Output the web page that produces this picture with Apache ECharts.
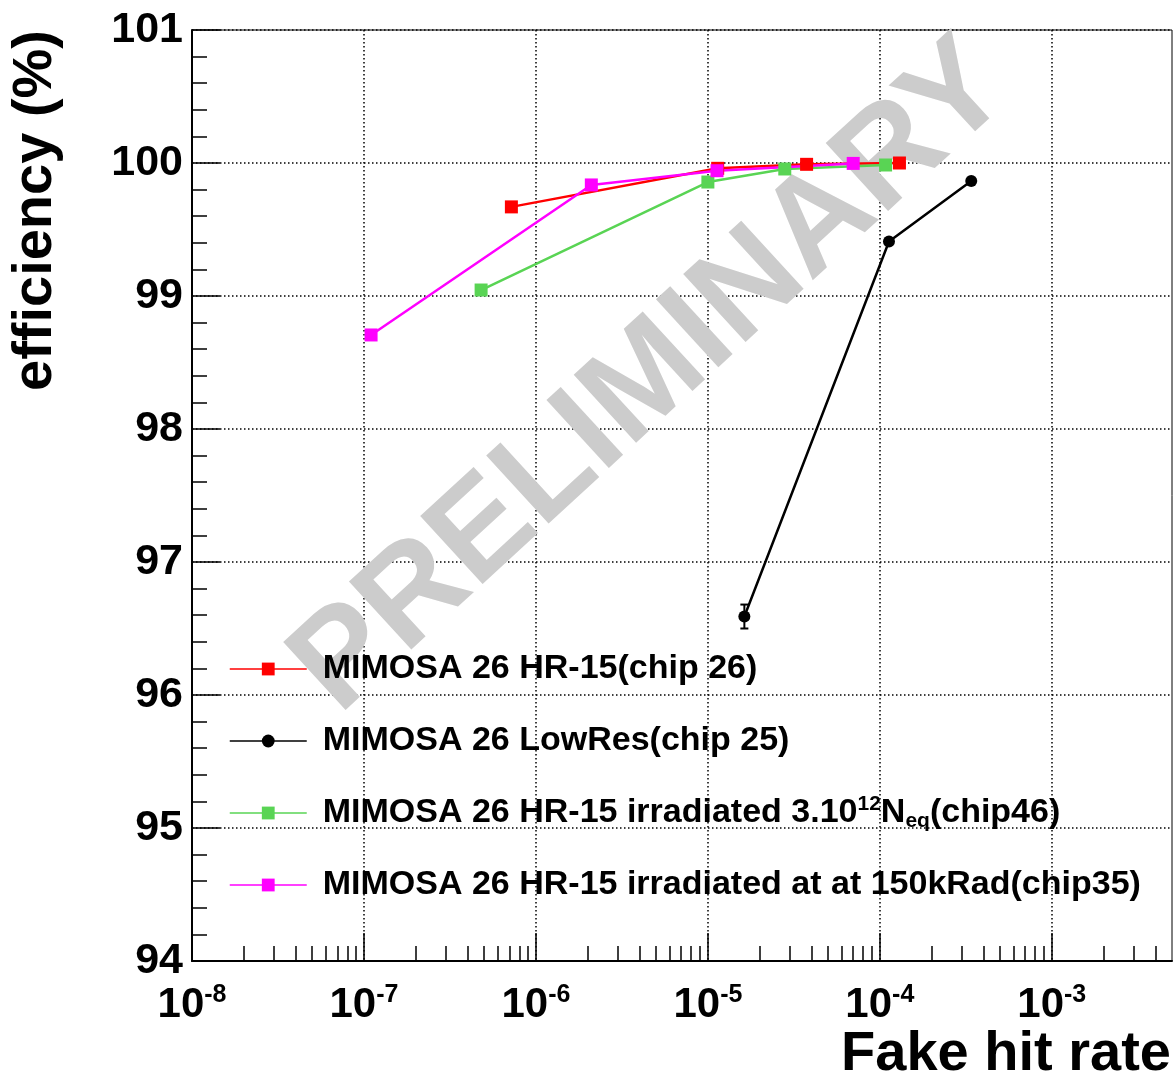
<!DOCTYPE html>
<html>
<head>
<meta charset="utf-8">
<script src="https://cdn.jsdelivr.net/npm/echarts@6/dist/echarts.min.js"></script>
<style>
  html, body { margin: 0; padding: 0; background: #fff; }
  #chart { width: 1174px; height: 1080px; }
</style>
</head>
<body>
<div id="chart"></div>
<script>
// Detection efficiency versus fake hit rate for MIMOSA 26 sensors.
const seriesNames = [
  'MIMOSA 26 HR-15(chip 26)',
  'MIMOSA 26 LowRes(chip 25)',
  'MIMOSA 26 HR-15 irradiated 3.10^12 N_eq(chip46)',
  'MIMOSA 26 HR-15 irradiated at at 150kRad(chip35)'
];

const hr15Rate = [7.2e-7, 1.14e-5, 3.75e-5, 1.3e-4];
const hr15Eff  = [99.67, 99.96, 99.99, 100.0];

const lowResRate = [1.63e-5, 1.13e-4, 3.4e-4];
const lowResEff  = [96.59, 99.41, 99.865];
const lowResErr  = [0.09, 0.02, 0.015];

const irrNeqRate = [4.8e-7, 1.0e-5, 2.8e-5, 1.08e-4];
const irrNeqEff  = [99.045, 99.857, 99.955, 99.985];

const irrRadRate = [1.1e-7, 2.1e-6, 1.13e-5, 7.0e-5];
const irrRadEff  = [98.707, 99.835, 99.942, 99.997];

const rateMin = 1e-8;
const rateMax = 5e-3;
const decadeTicks = [1e-8, 1e-7, 1e-6, 1e-5, 1e-4, 1e-3];
const seriesColors = ['#ff0000', '#000000', '#59d454', '#ff00ff'];

const FONT = '"Liberation Sans", Arial, Helvetica, sans-serif';

// 2..9 sub-divisions of every decade, up to the end of the axis
const minorRates = [];
decadeTicks.forEach(d => {
  for (let k = 2; k <= 9; k++) {
    const v = d * k;
    if (v < rateMax) minorRates.push(v);
  }
});

// Rich-text versions of the legend labels (super/subscripts)
const legendMarkup = {
  [seriesNames[2]]: 'MIMOSA 26 HR-15 irradiated 3.10{sup|12}N{sub|eq}(chip46)'
};

const pairs = (xs, ys) => xs.map((x, i) => [x, ys[i]]);

const gridDots = { color: '#000', width: 1.5, type: [1.5, 2.5] };

const chart = echarts.init(document.getElementById('chart'), null, { renderer: 'canvas' });

chart.setOption({
  animation: false,
  backgroundColor: '#fff',
  textStyle: { fontFamily: FONT },
  grid: {
    left: 192, right: 2, top: 30, bottom: 119,
    show: true, borderColor: '#000', borderWidth: 1, backgroundColor: 'transparent'
  },
  xAxis: [{
    type: 'log',
    logBase: 10,
    min: rateMin,
    max: rateMax,
    axisLine: { show: true, onZero: false, lineStyle: { color: '#000', width: 2 } },
    axisTick: {
      show: true, inside: true, length: 28, customValues: decadeTicks,
      lineStyle: { color: '#000', width: 1.5 }
    },
    axisLabel: {
      customValues: decadeTicks,
      margin: 22,
      formatter: v => '{b|10}{e|' + Math.round(Math.log10(v)) + '}',
      rich: {
        b: { fontSize: 42, fontWeight: 'bold', fontFamily: FONT, color: '#000', lineHeight: 44 },
        e: { fontSize: 25, fontWeight: 'bold', fontFamily: FONT, color: '#000', lineHeight: 22, verticalAlign: 'top' }
      }
    },
    splitLine: { show: true, lineStyle: gridDots }
  }, {
    type: 'log',
    logBase: 10,
    min: rateMin,
    max: rateMax,
    gridIndex: 0,
    position: 'bottom',
    axisLine: { show: false },
    axisLabel: { show: false },
    splitLine: { show: false },
    axisTick: {
      show: true, inside: true, length: 15, customValues: minorRates,
      lineStyle: { color: '#000', width: 1.5 }
    }
  }],
  yAxis: {
    type: 'value',
    min: 94,
    max: 101,
    interval: 1,
    axisLine: { show: true, lineStyle: { color: '#000', width: 2 } },
    axisTick: { show: true, inside: true, length: 28, lineStyle: { color: '#000', width: 1.5 } },
    minorTick: { show: true, splitNumber: 5, length: 15, lineStyle: { color: '#000', width: 1.5 } },
    axisLabel: { fontSize: 43, fontWeight: 'bold', color: '#000', margin: 9, fontFamily: FONT },
    splitLine: { show: true, lineStyle: gridDots }
  },
  legend: {
    data: seriesNames,
    orient: 'vertical',
    left: 229,
    top: 650,
    padding: 0,
    itemGap: 34,
    itemWidth: 77,
    itemHeight: 16,
    selectedMode: false,
    lineStyle: { width: 1.5 },
    formatter: name => legendMarkup[name] || name,
    textStyle: {
      fontSize: 34, fontWeight: 'bold', color: '#000', fontFamily: FONT,
      lineHeight: 38, padding: [0, 0, 0, 11],
      rich: {
        sup: { fontSize: 21, fontWeight: 'bold', fontFamily: FONT, color: '#000', lineHeight: 20, verticalAlign: 'top' },
        sub: { fontSize: 21, fontWeight: 'bold', fontFamily: FONT, color: '#000', lineHeight: 18, verticalAlign: 'bottom' }
      }
    }
  },
  graphic: [{
    type: 'text',
    z: 1,
    silent: true,
    x: 652,
    y: 378,
    rotation: 42.6 * Math.PI / 180,
    style: {
      text: 'PRELIMINARY',
      fontSize: 134, fontWeight: 'bold', fontFamily: FONT,
      fill: '#cccccc', align: 'center', verticalAlign: 'middle'
    }
  }, {
    type: 'text',
    z: 5,
    x: 36,
    y: 30,
    rotation: Math.PI / 2,
    style: {
      text: 'efficiency (%)',
      fontSize: 56, fontWeight: 'bold', fontFamily: FONT,
      fill: '#000', align: 'right', verticalAlign: 'middle'
    }
  }, {
    type: 'text',
    z: 5,
    x: 1171,
    y: 1055,
    style: {
      text: 'Fake hit rate',
      fontSize: 56, fontWeight: 'bold', fontFamily: FONT,
      fill: '#000', align: 'right', verticalAlign: 'middle'
    }
  }],
  series: [{
    name: seriesNames[0],
    type: 'line',
    data: pairs(hr15Rate, hr15Eff),
    symbol: 'rect', symbolSize: 13,
    itemStyle: { color: seriesColors[0] },
    lineStyle: { color: seriesColors[0], width: 2.5 },
    emphasis: { disabled: true }
  }, {
    name: seriesNames[1],
    type: 'line',
    data: pairs(lowResRate, lowResEff),
    symbol: 'circle', symbolSize: 12,
    itemStyle: { color: seriesColors[1] },
    lineStyle: { color: seriesColors[1], width: 2.5 },
    emphasis: { disabled: true }
  }, {
    name: 'LowRes errors',
    type: 'custom',
    data: lowResRate.map((r, i) => [r, lowResEff[i] - lowResErr[i], lowResEff[i] + lowResErr[i]]),
    encode: { x: 0, y: [1, 2] },
    z: 3,
    silent: true,
    renderItem: (params, api) => {
      const x = api.value(0);
      const lo = api.coord([x, api.value(1)]);
      const hi = api.coord([x, api.value(2)]);
      const st = { stroke: '#000', lineWidth: 2 };
      return {
        type: 'group',
        children: [
          { type: 'line', shape: { x1: lo[0], y1: lo[1], x2: hi[0], y2: hi[1] }, style: st },
          { type: 'line', shape: { x1: lo[0] - 4, y1: lo[1], x2: lo[0] + 4, y2: lo[1] }, style: st },
          { type: 'line', shape: { x1: hi[0] - 4, y1: hi[1], x2: hi[0] + 4, y2: hi[1] }, style: st }
        ]
      };
    }
  }, {
    name: seriesNames[2],
    type: 'line',
    data: pairs(irrNeqRate, irrNeqEff),
    symbol: 'rect', symbolSize: 13,
    itemStyle: { color: seriesColors[2] },
    lineStyle: { color: seriesColors[2], width: 2.5 },
    emphasis: { disabled: true }
  }, {
    name: seriesNames[3],
    type: 'line',
    data: pairs(irrRadRate, irrRadEff),
    symbol: 'rect', symbolSize: 13,
    itemStyle: { color: seriesColors[3] },
    lineStyle: { color: seriesColors[3], width: 2.5 },
    emphasis: { disabled: true }
  }]
});
</script>
</body>
</html>
